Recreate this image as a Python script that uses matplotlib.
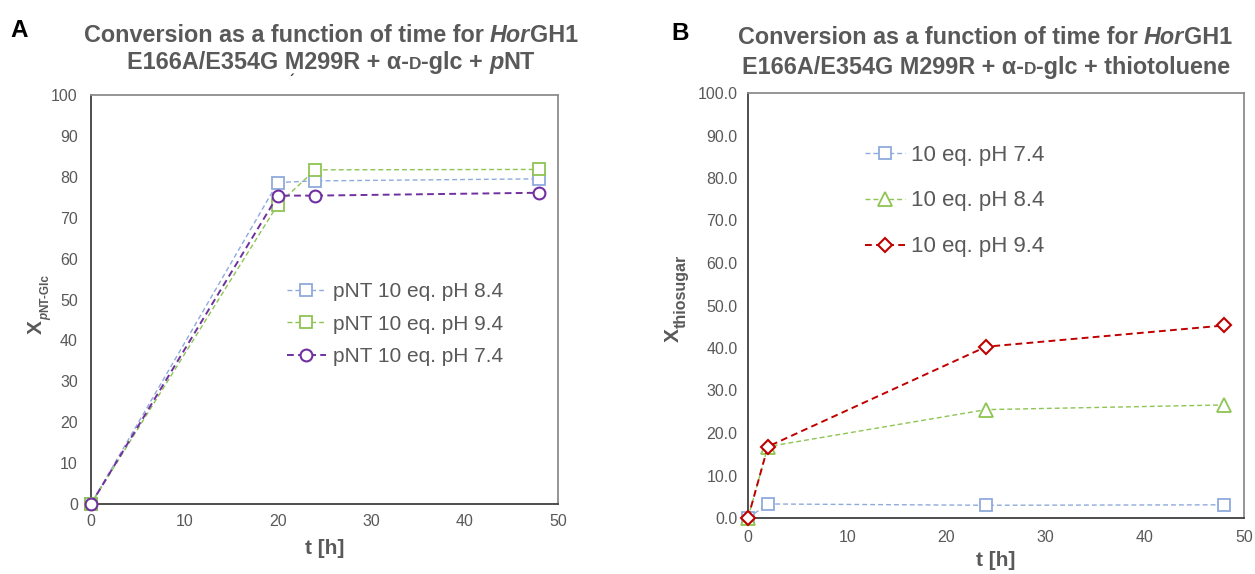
import matplotlib
matplotlib.use('Agg')
import matplotlib.pyplot as plt
from matplotlib.font_manager import FontProperties

# ---------------- data ----------------
t_A = [0, 20, 24, 48]
A_pH84 = [0, 78.6, 79.0, 79.5]
A_pH94 = [0, 73.2, 81.7, 81.8]
A_pH74 = [0, 75.4, 75.4, 76.1]
labels_A = ["pNT 10 eq. pH 8.4", "pNT 10 eq. pH 9.4", "pNT 10 eq. pH 7.4"]

t_B = [0, 2, 24, 48]
B_pH74 = [0, 3.3, 3.0, 3.1]
B_pH84 = [0, 16.8, 25.5, 26.6]
B_pH94 = [0, 16.8, 40.3, 45.3]
labels_B = ["10 eq. pH 7.4", "10 eq. pH 8.4", "10 eq. pH 9.4"]

x_ticks = [0, 10, 20, 30, 40, 50]
yA_ticks = list(range(0, 101, 10))
yB_ticks = list(range(0, 101, 10))

# ---------------- style ----------------
W, H = 1255, 574
FAM = 'Liberation Sans'
GRAY = '#595959'
BLUE = '#8FAADC'
GREEN = '#8DC452'
PURPLE = '#7030A0'
RED = '#C00000'

plt.rcParams['font.family'] = [FAM, 'DejaVu Sans']

fig = plt.figure(figsize=(W / 100, H / 100), dpi=100)
fig.patch.set_facecolor('white')


def add_ax(l, t, r, b):
    return fig.add_axes([l / W, 1 - b / H, (r - l) / W, (b - t) / H])


axA = add_ax(91, 95, 558, 504)
axB = add_ax(748, 93, 1244, 518)

dash = (0, (3.5, 2.2))

# Panel A
axA.plot(t_A, A_pH84, color=BLUE, lw=1.0, ls=dash, marker='s', ms=9,
         mfc='white', mec=BLUE, mew=1.3, label=labels_A[0], clip_on=False, zorder=3)
axA.plot(t_A, A_pH94, color=GREEN, lw=1.0, ls=dash, marker='s', ms=9,
         mfc='white', mec=GREEN, mew=1.3, label=labels_A[1], clip_on=False, zorder=3)
axA.plot(t_A, A_pH74, color=PURPLE, lw=1.4, ls=dash, marker='o', ms=8.5,
         mfc='white', mec=PURPLE, mew=1.5, label=labels_A[2], clip_on=False, zorder=4)

# Panel B
axB.plot(t_B, B_pH74, color=BLUE, lw=1.0, ls=dash, marker='s', ms=9,
         mfc='white', mec=BLUE, mew=1.3, label=labels_B[0], clip_on=False, zorder=3)
axB.plot(t_B, B_pH84, color=GREEN, lw=1.0, ls=dash, marker='^', ms=10,
         mfc='white', mec=GREEN, mew=1.3, label=labels_B[1], clip_on=False, zorder=3)
axB.plot(t_B, B_pH94, color=RED, lw=1.4, ls=dash, marker='D', ms=7,
         mfc='white', mec=RED, mew=1.5, label=labels_B[2], clip_on=False, zorder=4)

for ax, yt, fmt, ypad, xpad in [(axA, yA_ticks, '{:d}', 9.5, 7.5),
                                (axB, yB_ticks, '{:.1f}', 7.5, 8.5)]:
    ax.set_xlim(0, 50)
    ax.set_ylim(0, 100)
    ax.set_xticks(x_ticks)
    ax.set_xticklabels([str(v) for v in x_ticks])
    ax.set_yticks(yt)
    ax.set_yticklabels([fmt.format(v) for v in yt])
    ax.tick_params(axis='both', length=0, labelsize=11.5, labelcolor=GRAY)
    ax.tick_params(axis='y', pad=ypad)
    ax.tick_params(axis='x', pad=xpad)
    for s in ['top', 'right']:
        ax.spines[s].set_color('#8C8C8C')
        ax.spines[s].set_linewidth(1.3)
    for s in ['left', 'bottom']:
        ax.spines[s].set_color('#404040')
        ax.spines[s].set_linewidth(1.3)
    ax.set_facecolor('white')

legA = axA.legend(loc='center left', bbox_to_anchor=(0.42, 0.44), frameon=False,
                  borderpad=0, borderaxespad=0, handlelength=1.85, handletextpad=0.33,
                  labelspacing=0.64, fontsize=15, numpoints=1)
legB = axB.legend(loc='center left', bbox_to_anchor=(0.236, 0.746), frameon=False,
                  borderpad=0, borderaxespad=0, handlelength=1.8, handletextpad=0.25,
                  labelspacing=1.12, fontsize=16, numpoints=1)
for leg in (legA, legB):
    for txt in leg.get_texts():
        txt.set_color(GRAY)

# ---------------- rich text helpers ----------------
renderer = fig.canvas.get_renderer()


def fp_of(size, style='normal', weight='bold'):
    return FontProperties(family=FAM, weight=weight, style=style, size=size)


def text_w(s, fp):
    w, h, d = renderer.get_text_width_height_descent(s, fp, ismath=False)
    return w


def space_w(fp):
    return text_w('x x', fp) - text_w('xx', fp)


def rich_line(pieces, xc, ybase, color):
    """pieces: list of (string, fontprops); string ' ' means a space."""
    items = []
    total = 0
    for s, fp in pieces:
        w = space_w(fp) if s == ' ' else text_w(s, fp)
        items.append((s, fp, w))
        total += w
    x = xc - total / 2
    for s, fp, w in items:
        if s != ' ':
            fig.text(x / W, 1 - ybase / H, s, fontproperties=fp, color=color,
                     ha='left', va='baseline')
        x += w


def vrich(pieces, xbase, ycenter, color):
    """vertical (rotated 90) rich text; pieces: (string, fp, baseline shift px)."""
    items = []
    total = 0
    for s, fp, sh in pieces:
        w = text_w(s, fp)
        items.append((s, fp, sh, w))
        total += w
    y = (H - ycenter) - total / 2  # from bottom
    for s, fp, sh, w in items:
        fig.text((xbase + sh) / W, y / H, s, fontproperties=fp, color=color,
                 rotation=90, rotation_mode='anchor', ha='left', va='baseline')
        y += w


TS = 16.8
tb = fp_of(TS)
ti = fp_of(TS, 'italic')
tsc = fp_of(TS * 0.74)

# Title A
rich_line([("Conversion as a function of time for", tb), (' ', tb), ("Hor", ti), ("GH1", tb)],
          331, 42, GRAY)
rich_line([("E166A/E354G M299R + \u03b1-", tb), ("D", tsc), ("-glc +", tb), (' ', tb),
           ("p", ti), ("NT", tb)], 331, 69, GRAY)
# Title B
rich_line([("Conversion as a function of time for", tb), (' ', tb), ("Hor", ti), ("GH1", tb)],
          985, 44, GRAY)
rich_line([("E166A/E354G M299R + \u03b1-", tb), ("D", tsc), ("-glc + thiotoluene", tb)],
          986, 74, GRAY)

# stray mark under the title in panel A
fig.text(291 / W, 1 - 85 / H, "\u02ca", fontproperties=fp_of(10), color='#333333',
         ha='center', va='baseline', family=['DejaVu Sans'])

# panel letters
fig.text(10 / W, 1 - 37 / H, "A", fontproperties=fp_of(17.5), color='black',
         ha='left', va='baseline')
fig.text(671 / W, 1 - 40 / H, "B", fontproperties=fp_of(17.5), color='black',
         ha='left', va='baseline')

# axis labels
fig.text(325 / W, 1 - 548 / H, "t [h]", fontproperties=fp_of(15), color=GRAY,
         ha='center', va='center')
fig.text(996 / W, 1 - 560 / H, "t [h]", fontproperties=fp_of(15), color=GRAY,
         ha='center', va='center')

vrich([("X", fp_of(15), 0), ("p", fp_of(8.5, 'italic'), 6), ("NT-Glc", fp_of(8.5), 6)],
      42, 304, GRAY)
vrich([("X", fp_of(15), 0), ("thiosugar", fp_of(11.5), 7)],
      679, 298, GRAY)

fig.savefig('out.png', dpi=100, facecolor='white')
